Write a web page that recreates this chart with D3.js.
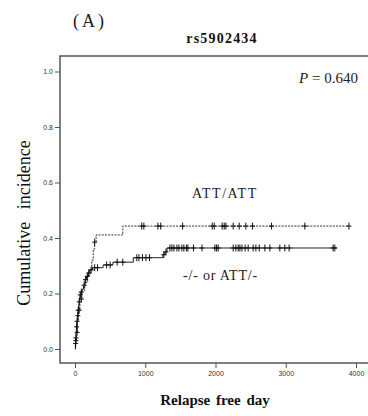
<!DOCTYPE html>
<html>
<head>
<meta charset="utf-8">
<script src="https://cdn.jsdelivr.net/npm/d3@7"></script>
<style>
  body { margin: 0; background: #fff; }
  #chart { width: 368px; height: 416px; }
</style>
</head>
<body>
<div id="chart"></div>
<script>
// ATT/ATT group (dashed)
const attDays   = [0, 10, 20, 35, 50, 70, 100, 140, 180, 215, 240, 260, 280, 300, 680];
const attCum    = [0, 0.03, 0.06, 0.10, 0.14, 0.18, 0.21, 0.24, 0.265, 0.285, 0.32, 0.36, 0.385, 0.411, 0.443];
const attEnd    = 3900;
const attCensor = [12, 30, 60, 90, 280, 950, 980, 1180, 1220, 1532, 1953, 1982, 2095, 2124, 2148,
                   2252, 2337, 2432, 2527, 2798, 3272, 3900];

// -/- or ATT/- group (solid)
const othDays   = [0, 5, 10, 15, 20, 28, 35, 43, 50, 57, 65, 71, 85, 100, 120, 142, 165, 185, 210,
                   250, 400, 540, 830, 1250, 1280, 1310];
const othCum    = [0, 0.02, 0.04, 0.06, 0.08, 0.10, 0.12, 0.14, 0.155, 0.17, 0.185, 0.195, 0.205, 0.215,
                   0.23, 0.25, 0.262, 0.274, 0.285, 0.293, 0.303, 0.313, 0.329, 0.340, 0.350, 0.364];
const othEnd    = 3730;
const othCensor = [8, 14, 22, 30, 40, 46, 60, 75, 90, 130, 150, 175, 195, 230, 280, 320, 450, 500, 600, 680,
                   880, 910, 960, 1010, 1060, 1265, 1295,
                   1351, 1380, 1408, 1451, 1479, 1522, 1550, 1586, 1607, 1686, 1807, 1991, 2016, 2038,
                   2252, 2290, 2323, 2347, 2376, 2422, 2465, 2536, 2575, 2622, 2703, 2774, 2916, 2987,
                   3048, 3674, 3698];

const yTicks = [0, 0.2, 0.4, 0.6, 0.8, 1.0];
const xTicks = [0, 1000, 2000, 3000, 4000];

const width = 368, height = 416;
const frame = { left: 60, top: 56, bottom: 363, right: 368 };

const svg = d3.select('#chart').append('svg')
  .attr('width', width).attr('height', height);

const x = d3.scaleLinear().domain([0, 4000]).range([75, 356]);
const y = d3.scaleLinear().domain([0, 1]).range([349, 71.5]);

// frame lines (SPSS style, no right edge)
const axisColor = '#555';
svg.append('path')
  .attr('d', `M${frame.right},${frame.top}H${frame.left}V${frame.bottom}H${frame.right}`)
  .attr('fill', 'none').attr('stroke', axisColor).attr('stroke-width', 1.5);

// axes
const gy = svg.append('g').attr('transform', `translate(${frame.left},0)`)
  .call(d3.axisLeft(y).tickValues(yTicks).tickSize(5).tickFormat(d3.format('.1f')));
const gx = svg.append('g').attr('transform', `translate(0,${frame.bottom})`)
  .call(d3.axisBottom(x).tickValues(xTicks).tickSize(5).tickFormat(d3.format('d')));
[gy, gx].forEach(g => {
  g.select('.domain').remove();
  g.selectAll('line').attr('stroke', axisColor);
  g.selectAll('text').attr('fill', '#333').style('font', '7px Arial, "Liberation Sans", sans-serif');
});
gy.selectAll('text').attr('x', -7);
gx.selectAll('text').attr('y', 8);

// step curves
function series(days, cum, end) {
  const pts = days.map((d, i) => [d, cum[i]]);
  pts.push([end, cum[cum.length - 1]]);
  return pts;
}
function valueAt(days, cum, t) {
  const i = d3.bisectRight(days, t) - 1;
  return cum[Math.max(0, i)];
}
const line = d3.line().x(d => x(d[0])).y(d => y(d[1])).curve(d3.curveStepAfter);

svg.append('path').datum(series(othDays, othCum, othEnd))
  .attr('d', line).attr('fill', 'none').attr('stroke', '#222').attr('stroke-width', 1);
svg.append('path').datum(series(attDays, attCum, attEnd))
  .attr('d', line).attr('fill', 'none').attr('stroke', '#333').attr('stroke-width', 1)
  .attr('stroke-dasharray', '2,1.2');

// censor marks
function drawCensor(days, cum, censor) {
  const g = svg.append('g').attr('stroke', '#111').attr('stroke-width', 1);
  censor.forEach(t => {
    const cx = x(t), cy = y(valueAt(days, cum, t));
    g.append('line').attr('x1', cx).attr('x2', cx).attr('y1', cy - 3.5).attr('y2', cy + 3.5);
    g.append('line').attr('x1', cx - 2.5).attr('x2', cx + 2.5).attr('y1', cy).attr('y2', cy);
  });
}
drawCensor(othDays, othCum, othCensor);
drawCensor(attDays, attCum, attCensor);

// texts
const serif = '"Liberation Serif", "Times New Roman", serif';
svg.append('text').attr('x', 73).attr('y', 27)
  .style('font', `18px ${serif}`).style('letter-spacing', '3px').attr('fill', '#222').text('(A)');
svg.append('text').attr('x', 222).attr('y', 43).attr('text-anchor', 'middle')
  .style('font', `bold 14px ${serif}`).style('letter-spacing', '1.2px').attr('fill', '#111').text('rs5902434');

const p = svg.append('text').attr('x', 358).attr('y', 83).attr('text-anchor', 'end')
  .style('font', `15px ${serif}`).attr('fill', '#222');
p.append('tspan').style('font-style', 'italic').text('P');
p.append('tspan').text(' = 0.640');

svg.append('text').attr('x', 192).attr('y', 198)
  .style('font', `14px ${serif}`).style('letter-spacing', '1.5px').attr('fill', '#222').text('ATT/ATT');
svg.append('text').attr('x', 183).attr('y', 280)
  .style('font', `14px ${serif}`).style('letter-spacing', '0.8px').attr('fill', '#222').text('-/- or ATT/-');

svg.append('text').attr('x', 215).attr('y', 405).attr('text-anchor', 'middle')
  .style('font', `bold 15px ${serif}`).style('word-spacing', '2px').attr('fill', '#111').text('Relapse free day');
svg.append('text').attr('transform', 'translate(30,223) rotate(-90)').attr('text-anchor', 'middle')
  .style('font', `18px ${serif}`).style('word-spacing', '8px')
  .attr('fill', '#111').text('Cumulative incidence');
</script>
</body>
</html>
